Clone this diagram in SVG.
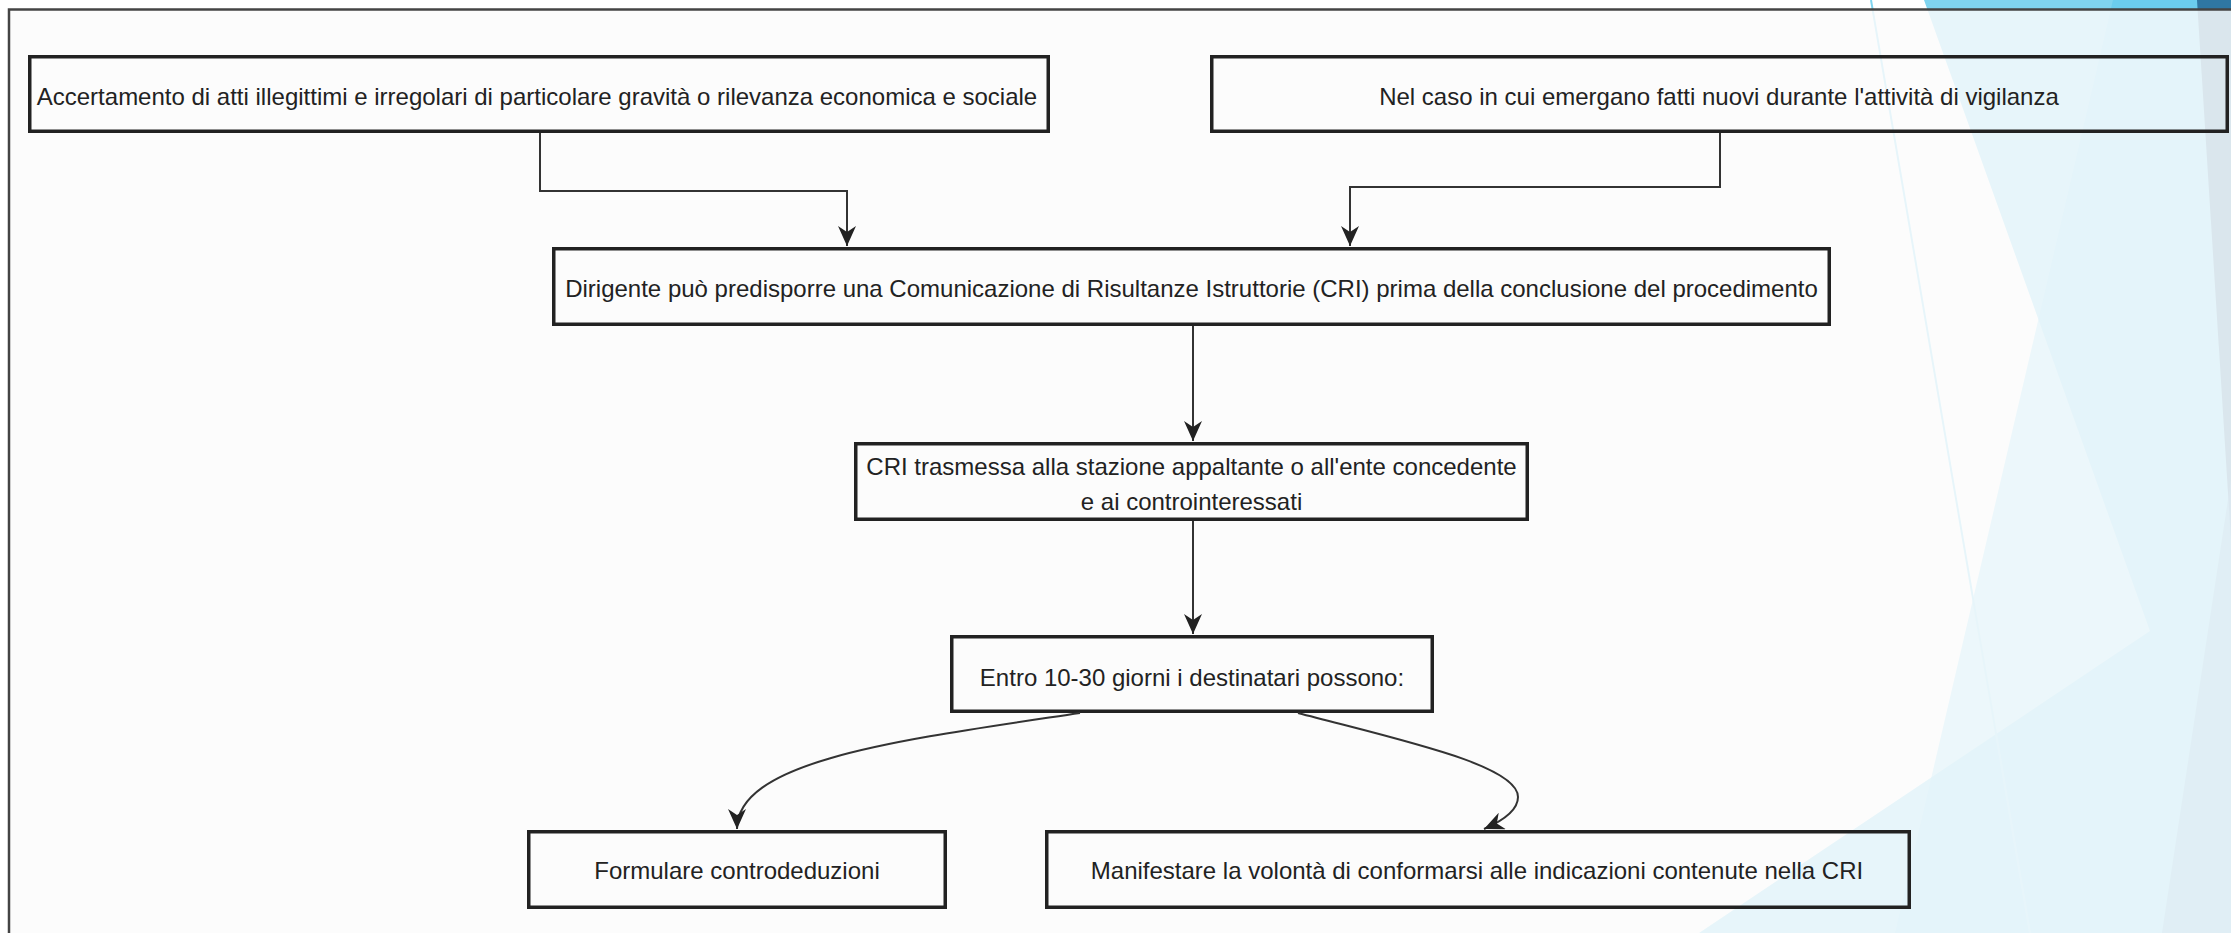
<svg xmlns="http://www.w3.org/2000/svg" width="2231" height="933" viewBox="0 0 2231 933">
  <style>
    .box { fill: none; stroke: #222; stroke-width: 3.5; }
    .lbl { font-family: "Liberation Sans", Arial, sans-serif; font-size: 24px; fill: #222; text-anchor: middle; }
    .edge { fill: none; stroke: #333; stroke-width: 2; }
  </style>
  <defs>
    <marker id="arrow" markerUnits="userSpaceOnUse" markerWidth="20" markerHeight="18" viewBox="0 0 20 18" refX="20" refY="9" orient="auto">
      <path d="M0,0 L20,9 L0,18 L6,9 z" fill="#222"/>
    </marker>
  </defs>

  <!-- slide background -->
  <rect x="0" y="0" width="2231" height="933" fill="#ffffff"/>

  <!-- faceted theme decoration on the right -->
  <g id="facets">
    <polygon points="1924,0 2231,0 2231,933 1699,933 2150,631" fill="#7fd4ef"/>
    <polygon points="2113,0 2231,0 2231,933 1895,933" fill="#5ec8ec" opacity="0.6"/>
    <polygon points="2197,0 2231,0 2231,540" fill="#2f77a3"/>
    <polygon points="2231,480 2231,933 2162,933" fill="#3f8fc0" opacity="0.6"/>
    <line x1="1871" y1="0" x2="2030" y2="933" stroke="#7fd4ef" stroke-width="2"/>
  </g>

  <!-- diagram canvas -->
  <rect x="9" y="9.5" width="2222" height="923.5" fill="#fbfbfb" opacity="0.84"/>
  <path d="M9,933 V9.5 H2231" fill="none" stroke="#444" stroke-width="2.5"/>

  <g id="node-accertamento">
    <rect class="box" x="29.75" y="56.75" width="1018.5" height="74.5"/>
    <text class="lbl" x="537" y="105">Accertamento di atti illegittimi e irregolari di particolare gravità o rilevanza economica e sociale</text>
  </g>

  <g id="node-fatti-nuovi">
    <rect class="box" x="1211.75" y="56.75" width="1015.5" height="74.5"/>
    <text class="lbl" x="1719" y="105">Nel caso in cui emergano fatti nuovi durante l'attività di vigilanza</text>
  </g>

  <g id="node-dirigente">
    <rect class="box" x="553.75" y="248.75" width="1275.5" height="75.5"/>
    <text class="lbl" x="1191.5" y="296.5">Dirigente può predisporre una Comunicazione di Risultanze Istruttorie (CRI) prima della conclusione del procedimento</text>
  </g>

  <g id="node-cri-trasmessa">
    <rect class="box" x="855.75" y="443.75" width="671.5" height="75.5"/>
    <text class="lbl" x="1191.5" y="475">CRI trasmessa alla stazione appaltante o all'ente concedente</text>
    <text class="lbl" x="1191.5" y="510">e ai controinteressati</text>
  </g>

  <g id="node-entro">
    <rect class="box" x="951.75" y="636.75" width="480.5" height="74.5"/>
    <text class="lbl" x="1192" y="685.5">Entro 10-30 giorni i destinatari possono:</text>
  </g>

  <g id="node-controdeduzioni">
    <rect class="box" x="528.75" y="831.75" width="416.5" height="75.5"/>
    <text class="lbl" x="737" y="878.5">Formulare controdeduzioni</text>
  </g>

  <g id="node-conformarsi">
    <rect class="box" x="1046.75" y="831.75" width="862.5" height="75.5"/>
    <text class="lbl" x="1477" y="878.5">Manifestare la volontà di conformarsi alle indicazioni contenute nella CRI</text>
  </g>

  <g id="connectors">
    <path class="edge" d="M540,133 V191 H847 V246" marker-end="url(#arrow)"/>
    <path class="edge" d="M1720,133 V187 H1350 V246" marker-end="url(#arrow)"/>
    <path class="edge" d="M1193,326 V441" marker-end="url(#arrow)"/>
    <path class="edge" d="M1193,521 V634" marker-end="url(#arrow)"/>
    <path class="edge" d="M1080,713 C900,740 737,760 737,829" marker-end="url(#arrow)"/>
    <path class="edge" d="M1298,713 C1400,740 1518,765 1518,797 C1518,812 1500,822 1484,829" marker-end="url(#arrow)"/>
  </g>
</svg>
